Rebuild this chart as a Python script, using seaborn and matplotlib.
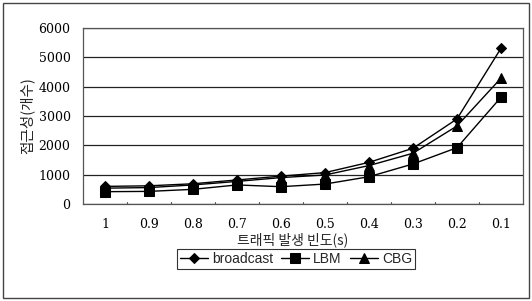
import matplotlib
matplotlib.use("Agg")
import matplotlib.pyplot as plt
import seaborn as sns
import pandas as pd
from matplotlib.patches import Rectangle

categories = ["1", "0.9", "0.8", "0.7", "0.6", "0.5", "0.4", "0.3", "0.2", "0.1"]
broadcast = [600, 620, 690, 820, 950, 1070, 1420, 1900, 2900, 5310]
lbm = [420, 430, 500, 650, 590, 680, 930, 1365, 1920, 3640]
cbg = [540, 560, 650, 770, 900, 990, 1310, 1730, 2660, 4290]
series_names = ["broadcast", "LBM", "CBG"]
yticks = [0, 1000, 2000, 3000, 4000, 5000, 6000]

rows = []
for name, vals in zip(series_names, [broadcast, lbm, cbg]):
    for c, v in zip(categories, vals):
        rows.append({"freq": c, "value": v, "series": name})
df = pd.DataFrame(rows)

sns.set_theme(style="white")
plt.rcParams['font.family'] = ['DejaVu Serif', 'Noto Sans CJK KR']

fig = plt.figure(figsize=(5.32, 3.01), dpi=100)
ax = fig.add_axes([83/532, 97/301, 440/532, 176/301])

sns.lineplot(data=df, x="freq", y="value", hue="series", style="series",
             markers={"broadcast": "D", "LBM": "s", "CBG": "^"},
             dashes=False, palette={"broadcast": "black", "LBM": "black", "CBG": "black"},
             markersize=6.5, linewidth=1.0, markeredgecolor="black", ax=ax, sort=False)
for ln in ax.lines:
    if ln.get_marker() == "D":
        ln.set_markersize(5)

ax.set_ylim(0, 6000)
ax.set_yticks(yticks)
ax.set_xlim(-0.5, len(categories) - 0.5)
ax.yaxis.grid(True, color="#222222", linewidth=0.9)
ax.xaxis.grid(False)
for s in ax.spines.values():
    s.set_color("#555555")
    s.set_linewidth(0.9)
ax.tick_params(axis="both", length=0, labelsize=9, colors="black")
ax.tick_params(axis="x", pad=10)
ax.tick_params(axis="y", pad=9)
ax.set_xlabel("")
fig.text(293/532, 1 - 240/301, "트래픽 발생 빈도(s)", ha="center", va="center",
         fontsize=10, family=['Noto Sans CJK KR'])
ax.set_ylabel("접근성(개수)", fontsize=10.5, family=['Noto Sans CJK KR'], labelpad=3)

# minor boundary ticks on x axis
for i in range(len(categories) - 1):
    ax.plot([i + 0.5, i + 0.5], [0, 60], color="#555555", linewidth=0.8, clip_on=False)

handles, labels = ax.get_legend_handles_labels()
leg = ax.legend(handles, labels, loc="center", bbox_to_anchor=(296/532, 42/301),
                bbox_transform=fig.transFigure, ncol=3, frameon=True, fancybox=False,
                prop={'family': 'Liberation Sans', 'size': 10}, handlelength=2.0,
                columnspacing=0.6, handletextpad=0.3, borderpad=0.2, borderaxespad=0)
leg.get_frame().set_edgecolor("black")
leg.get_frame().set_linewidth(0.8)

fig.patches.append(Rectangle((3/532, 3/301), 526/532, 295/301, transform=fig.transFigure,
                             fill=False, edgecolor="#444444", linewidth=1.0))

fig.savefig("out.png", dpi=100)
